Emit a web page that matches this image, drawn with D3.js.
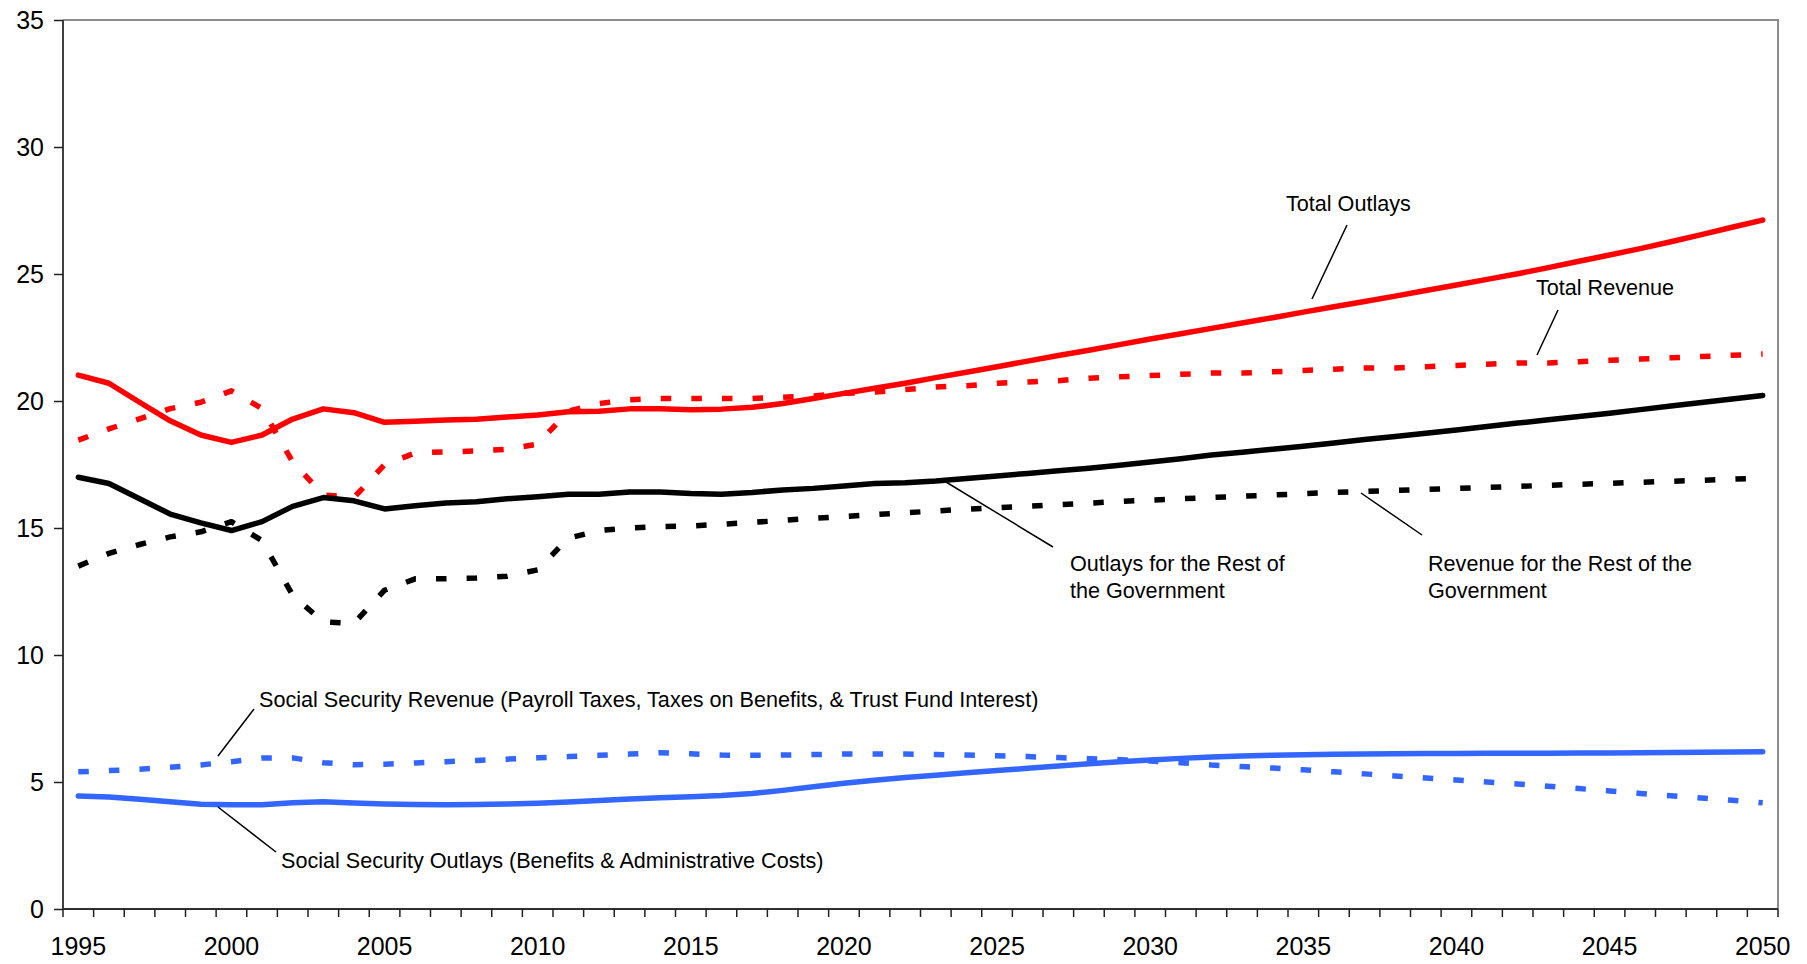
<!DOCTYPE html>
<html>
<head>
<meta charset="utf-8">
<script src="https://cdn.jsdelivr.net/npm/d3@7/dist/d3.min.js"></script>
<style>
  html, body { margin: 0; padding: 0; background: #fff; }
  svg { display: block; font-family: "Liberation Sans", Arial, sans-serif; }
</style>
</head>
<body>
<svg id="chart" width="1807" height="964"></svg>
<script>
// Years on the category axis
const years = d3.range(1995, 2051);

// Percent of GDP, one value per year 1995–2050
const totalOutlays = [
  21.02, 20.7, 19.95, 19.22, 18.66, 18.37, 18.66, 19.29, 19.69, 19.54,
  19.16, 19.2, 19.25, 19.28, 19.37, 19.45, 19.58, 19.6, 19.69, 19.69,
  19.66, 19.68, 19.75, 19.9, 20.1, 20.3, 20.5, 20.7, 20.92, 21.13,
  21.35, 21.57, 21.79, 22.0, 22.22, 22.44, 22.65, 22.86, 23.07, 23.28,
  23.5, 23.71, 23.92, 24.13, 24.35, 24.57, 24.79, 25.01, 25.25, 25.5,
  25.75, 26.0, 26.27, 26.55, 26.84, 27.12
];
const totalRevenue = [
  18.46, 18.9, 19.3, 19.7, 19.95, 20.4, 19.7, 17.6, 16.3, 16.2,
  17.5, 17.95, 18.0, 18.03, 18.1, 18.3, 19.6, 19.9, 20.05, 20.1,
  20.1, 20.1, 20.1, 20.15, 20.2, 20.3, 20.35, 20.45, 20.55, 20.6,
  20.7, 20.75, 20.8, 20.9, 20.95, 21.0, 21.05, 21.1, 21.1, 21.15,
  21.2, 21.25, 21.3, 21.3, 21.35, 21.4, 21.45, 21.5, 21.5, 21.55,
  21.6, 21.65, 21.7, 21.75, 21.8, 21.85
];
const restOutlays = [
  17.0, 16.75, 16.15, 15.55, 15.2, 14.9, 15.25, 15.85, 16.2, 16.07,
  15.75, 15.88, 15.98, 16.03, 16.15, 16.23, 16.33, 16.33, 16.42, 16.42,
  16.36, 16.33, 16.4, 16.5, 16.56, 16.65, 16.75, 16.78, 16.85, 16.95,
  17.05, 17.15, 17.25, 17.35, 17.47, 17.6, 17.73, 17.87, 17.98, 18.1,
  18.22, 18.35, 18.48, 18.6, 18.73, 18.86, 19.0, 19.13, 19.26, 19.39,
  19.52, 19.66, 19.8, 19.94, 20.08, 20.22
];
const restRevenue = [
  13.5, 14.0, 14.35, 14.65, 14.85, 15.25, 14.5, 12.35, 11.3, 11.25,
  12.55, 13.0, 13.0, 13.03, 13.1, 13.35, 14.6, 14.9, 15.0, 15.05,
  15.08, 15.15, 15.22, 15.3, 15.38, 15.45, 15.53, 15.6, 15.67, 15.74,
  15.8, 15.86, 15.92, 15.98, 16.04, 16.1, 16.15, 16.2, 16.25, 16.3,
  16.35, 16.4, 16.44, 16.48, 16.52, 16.56, 16.6, 16.64, 16.68, 16.72,
  16.76, 16.8, 16.84, 16.88, 16.92, 16.96
];
const ssRevenue = [
  5.4, 5.45, 5.5, 5.58, 5.67, 5.8, 5.94, 5.95, 5.76, 5.68,
  5.7, 5.75, 5.8, 5.85, 5.9, 5.95, 6.0, 6.05, 6.1, 6.15,
  6.11, 6.06, 6.05, 6.06, 6.08, 6.1, 6.1, 6.1, 6.08, 6.06,
  6.03, 6.0, 5.96, 5.92, 5.88, 5.83, 5.76, 5.67, 5.61, 5.55,
  5.48, 5.4, 5.32, 5.24, 5.16, 5.08, 5.0, 4.92, 4.83, 4.74,
  4.65, 4.55, 4.46, 4.37, 4.28, 4.18
];
const ssOutlays = [
  4.45, 4.41, 4.32, 4.22, 4.12, 4.1, 4.1, 4.18, 4.22, 4.17,
  4.13, 4.11, 4.1, 4.11, 4.13, 4.16, 4.21, 4.27, 4.33, 4.38,
  4.42, 4.47, 4.55, 4.67, 4.81, 4.95, 5.07, 5.18, 5.27, 5.36,
  5.45, 5.54, 5.63, 5.72, 5.8, 5.87, 5.93, 5.98, 6.02, 6.05,
  6.07, 6.09, 6.1, 6.11, 6.12, 6.12, 6.13, 6.13, 6.13, 6.14,
  6.14, 6.15, 6.16, 6.17, 6.18, 6.19
];

// Axis ticks
const yTicks = [0, 5, 10, 15, 20, 25, 30, 35];
const xLabelYears = [1995, 2000, 2005, 2010, 2015, 2020, 2025, 2030, 2035, 2040, 2045, 2050];

const series = [
  { name: "Total Outlays", values: totalOutlays, color: "#ff0000", dashed: false },
  { name: "Total Revenue", values: totalRevenue, color: "#ff0000", dashed: true },
  { name: "Outlays for the Rest of the Government", values: restOutlays, color: "#000000", dashed: false },
  { name: "Revenue for the Rest of the Government", values: restRevenue, color: "#000000", dashed: true },
  { name: "Social Security Revenue", values: ssRevenue, color: "#3366ff", dashed: true },
  { name: "Social Security Outlays", values: ssOutlays, color: "#3366ff", dashed: false }
];

const svg = d3.select("#chart");
const plotL = 63, plotR = 1778, plotT = 20, plotB = 909;

const x = d3.scaleBand().domain(years).range([plotL, plotR]).padding(0);
const y = d3.scaleLinear().domain([0, 35]).range([plotB, plotT]);
const cx = yr => x(yr) + x.bandwidth() / 2;

// Plot frame: grey top and right edges
svg.append("path")
  .attr("d", `M${plotL},${plotT}H${plotR}V${plotB}`)
  .attr("fill", "none")
  .attr("stroke", "#8c8c8c")
  .attr("stroke-width", 2);

// Series lines
const line = d3.line()
  .x((d, i) => cx(years[i]))
  .y(d => y(d));

svg.append("g").selectAll("path")
  .data(series)
  .join("path")
  .attr("d", s => line(s.values))
  .attr("fill", "none")
  .attr("stroke", s => s.color)
  .attr("stroke-width", 5.5)
  .attr("stroke-linejoin", "round")
  .attr("stroke-linecap", s => s.dashed ? "butt" : "round")
  .attr("stroke-dasharray", s => s.dashed ? "10.5,20.1" : null);

// Y axis
const yAxis = svg.append("g")
  .attr("transform", `translate(${plotL},0)`)
  .call(d3.axisLeft(y).tickValues(yTicks).tickSize(9).tickPadding(10).tickFormat(d3.format("d")));
yAxis.select(".domain").attr("stroke", "#404040").attr("stroke-width", 2)
  .attr("d", `M0,${plotT}V${plotB}`);
yAxis.selectAll(".tick line").attr("stroke", "#202020").attr("stroke-width", 1.5);
yAxis.selectAll(".tick text")
  .attr("font-size", 25)
  .attr("font-family", "Liberation Sans, Arial, sans-serif")
  .attr("fill", "#000");

// X axis: labels at category centres, ticks on category boundaries
const xAxis = svg.append("g")
  .attr("transform", `translate(0,${plotB})`)
  .call(d3.axisBottom(x).tickValues(xLabelYears).tickSize(0).tickPadding(0));
xAxis.select(".domain").attr("stroke", "#303030").attr("stroke-width", 2)
  .attr("d", `M${plotL},0H${plotR}`);
xAxis.selectAll(".tick text")
  .attr("font-size", 25)
  .attr("font-family", "Liberation Sans, Arial, sans-serif")
  .attr("fill", "#000")
  .attr("dy", null)
  .attr("y", 46);

const boundaries = years.map(yr => x(yr)).concat([plotR]);
xAxis.append("g").selectAll("line")
  .data(boundaries)
  .join("line")
  .attr("x1", d => d).attr("x2", d => d)
  .attr("y1", 0).attr("y2", 8)
  .attr("stroke", "#202020")
  .attr("stroke-width", 1.5);

// Annotations with leader lines
const notes = [
  { lines: ["Total Outlays"], tx: 1286, ty: 211, l: [1347, 225, 1312, 299] },
  { lines: ["Total Revenue"], tx: 1536, ty: 295, l: [1558, 310, 1537, 355] },
  { lines: ["Outlays for the Rest of", "the Government"], tx: 1070, ty: 571, l: [946, 482, 1053, 547] },
  { lines: ["Revenue for the Rest of the", "Government"], tx: 1428, ty: 571, l: [1361, 493, 1422, 535] },
  { lines: ["Social Security Revenue (Payroll Taxes, Taxes on Benefits, & Trust Fund Interest)"], tx: 259, ty: 707, l: [254, 709, 218, 756] },
  { lines: ["Social Security Outlays (Benefits & Administrative Costs)"], tx: 281, ty: 868, l: [218, 807, 276, 852] }
];

const ann = svg.append("g");
notes.forEach(n => {
  ann.append("line")
    .attr("x1", n.l[0]).attr("y1", n.l[1])
    .attr("x2", n.l[2]).attr("y2", n.l[3])
    .attr("stroke", "#000").attr("stroke-width", 1.5);
  const t = ann.append("text")
    .attr("x", n.tx).attr("y", n.ty)
    .attr("font-size", 21.6)
    .attr("fill", "#000");
  n.lines.forEach((s, i) => {
    t.append("tspan").attr("x", n.tx).attr("dy", i === 0 ? 0 : 26.5).text(s);
  });
});
</script>
</body>
</html>
